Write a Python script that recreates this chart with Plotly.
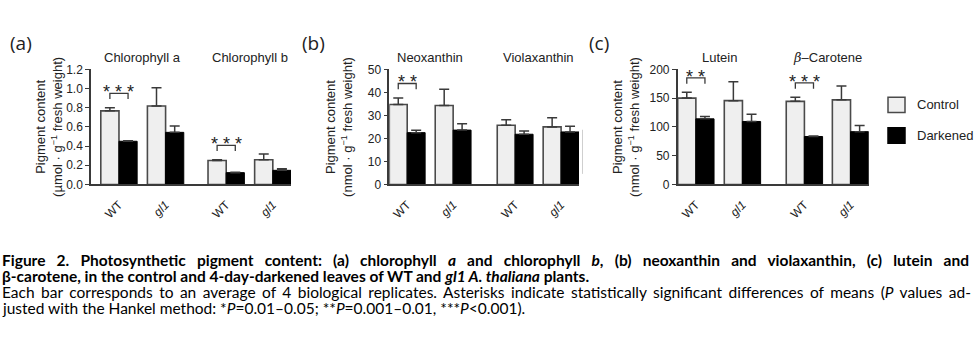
import plotly.graph_objects as go

# ---------------- data ----------------
genotypes = ["WT", "<i>gl1</i>", "WT", "<i>gl1</i>"]
series_names = ["Control", "Darkened"]

a_pigments = ["Chlorophyll a", "Chlorophyll b"]
a_control = [0.767, 0.817, 0.250, 0.257]
a_control_err = [0.033, 0.19, 0.008, 0.06]
a_dark = [0.450, 0.543, 0.123, 0.147]
a_dark_err = [0.006, 0.067, 0.003, 0.016]
a_sig = [(0, "* * *"), (2, "* * *")]

b_pigments = ["Neoxanthin", "Violaxanthin"]
b_control = [34.7, 34.3, 25.7, 25.0]
b_control_err = [2.9, 7.1, 2.4, 4.0]
b_dark = [22.5, 23.6, 21.8, 22.8]
b_dark_err = [1.0, 2.8, 1.4, 2.5]
b_sig = [(0, "* *")]

c_pigments = ["Lutein", "<span style='font-family:DejaVu Serif'><i>β</i></span>–Carotene"]
c_control = [150.0, 145.6, 144.4, 147.0]
c_control_err = [10.0, 33.0, 7.0, 24.0]
c_dark = [114.0, 109.4, 83.3, 91.7]
c_dark_err = [4.0, 12.6, 1.0, 10.5]
c_sig = [(0, "* *"), (2, "* * *")]

# ---------------- layout helpers ----------------
W, H = 974, 342
def px(x):
    return x / W
def py(y):
    return 1 - y / H

AX = "Liberation Sans, Arial, sans-serif"
LINE = "#3a3a3a"
CTRL_FILL = "#efefef"

panels = [
    dict(letter="(a)", pig=a_pigments, ctrl=a_control, ce=a_control_err, dark=a_dark, de=a_dark_err,
         sig=a_sig, xdom=(91, 291), pos=[0, 1, 2.3, 3.3], xr=(-0.60, 3.69), yr=(0, 1.2), dt=0.2,
         fmt=".1f", unit="µmol", letter_x=8, title_x=49),
    dict(letter="(b)", pig=b_pigments, ctrl=b_control, ce=b_control_err, dark=b_dark, de=b_dark_err,
         sig=b_sig, xdom=(389.3, 579), pos=[0, 1, 2.35, 3.35], xr=(-0.39, 3.74), yr=(0, 50), dt=10,
         fmt="d", unit="nmol", letter_x=300, title_x=339),
    dict(letter="(c)", pig=c_pigments, ctrl=c_control, ce=c_control_err, dark=c_dark, de=c_dark_err,
         sig=c_sig, xdom=(677.7, 868.7), pos=[0, 1, 2.33, 3.32], xr=(-0.39, 3.71), yr=(0, 200), dt=50,
         fmt="d", unit="nmol", letter_x=587, title_x=626),
]

Y_TOP, Y_BOT = 65, 185
BW = 0.39

fig = go.Figure()
shapes = []
annotations = []

for i, p in enumerate(panels):
    k = "" if i == 0 else str(i + 1)
    xa, ya = "x" + k, "y" + k
    fig.add_trace(go.Bar(
        x=p["pos"], y=p["ctrl"], name=series_names[0], xaxis=xa, yaxis=ya,
        width=BW, offset=-BW, showlegend=False,
        marker=dict(color=CTRL_FILL, line=dict(color="#4a4a4a", width=1.6)),
        error_y=dict(type="data", array=p["ce"], arrayminus=[0] * 4, symmetric=False,
                     color=LINE, thickness=1.5, width=5),
    ))
    fig.add_trace(go.Bar(
        x=p["pos"], y=p["dark"], name=series_names[1], xaxis=xa, yaxis=ya,
        width=BW, offset=0, showlegend=False,
        marker=dict(color="#000000", line=dict(color="#000000", width=1)),
        error_y=dict(type="data", array=p["de"], arrayminus=[0] * 4, symmetric=False,
                     color=LINE, thickness=1.5, width=5),
    ))
    xd = (px(p["xdom"][0]), px(p["xdom"][1]))
    yd = (py(Y_BOT), py(Y_TOP))
    axl = "xaxis" + k
    ayl = "yaxis" + k
    fig.layout[axl] = dict(
        domain=xd, anchor=ya, range=list(p["xr"]), showgrid=False, zeroline=False,
        showline=True, linecolor=LINE, linewidth=1.5, ticks="",
        tickmode="array", tickvals=p["pos"], ticktext=genotypes, tickangle=-45,
        ticklabelstandoff=7,
        tickfont=dict(family=AX, size=12, color="#222"),
    )
    y0, y1 = p["yr"]
    ntk = int(round((y1 - y0) / p["dt"]))
    fig.layout[ayl] = dict(
        domain=yd, anchor=xa, range=[y0, y1], showgrid=False, zeroline=False,
        showline=True, linecolor=LINE, linewidth=1.5, ticks="outside", ticklen=4,
        tickwidth=1.2, tickcolor=LINE, tickmode="array",
        tickvals=[y0 + j * p["dt"] for j in range(ntk + 1)],
        tickformat=p["fmt"], tickfont=dict(family=AX, size=12, color="#222"),
    )
    # significance brackets
    upp = (y1 - y0) / (Y_BOT - Y_TOP)  # data units per pixel
    for gi, stars in p["sig"]:
        top = max(p["ctrl"][gi] + p["ce"][gi], p["dark"][gi] + p["de"][gi]) + 15 * upp
        xl = p["pos"][gi] - BW / 2
        xr_ = p["pos"][gi] + BW / 2
        shapes.append(dict(type="path", xref=xa, yref=ya,
                           path=f"M {xl} {top - 6 * upp} L {xl} {top} L {xr_} {top} L {xr_} {top - 6 * upp}",
                           line=dict(color=LINE, width=1.3)))
        annotations.append(dict(x=p["pos"][gi], y=top, xref=xa, yref=ya, text=stars, showarrow=False,
                                yanchor="bottom", yshift=-11,
                                font=dict(family=AX, size=18, color="#222")))
    # pigment titles above groups
    for j, name in enumerate(p["pig"]):
        cx = (p["pos"][2 * j] + p["pos"][2 * j + 1]) / 2
        annotations.append(dict(x=cx, y=py(53), xref=xa, yref="paper", text=name, showarrow=False,
                                yanchor="middle", font=dict(family=AX, size=13, color="#222")))
    # panel letters
    annotations.append(dict(x=px(p["letter_x"]), y=py(38), xref="paper", yref="paper", text=p["letter"],
                            showarrow=False, xanchor="left", yanchor="middle",
                            font=dict(family="Open Sans, sans-serif", size=19, color="#222")))
    # y-axis titles
    annotations.append(dict(x=px(p["title_x"]), y=py(125), xref="paper", yref="paper",
                            text=f"Pigment content<br>({p['unit']} · g<sup>−1</sup> fresh weight)",
                            textangle=-90, showarrow=False, xanchor="center", yanchor="middle",
                            font=dict(family=AX, size=13, color="#222")))

# legend (manual)
for name, fill, lc, yc in [("Control", CTRL_FILL, "#4a4a4a", 102), ("Darkened", "#000000", "#000000", 134)]:
    shapes.append(dict(type="rect", xref="paper", yref="paper", x0=px(888), x1=px(905),
                       y0=py(yc + 8), y1=py(yc - 8), fillcolor=fill, line=dict(color=lc, width=1.5)))
    annotations.append(dict(x=px(915), y=py(yc), xref="paper", yref="paper", text=name, showarrow=False,
                            xanchor="left", yanchor="middle", font=dict(family=AX, size=13, color="#222")))

# faint stray line left of panel (c)
shapes.append(dict(type="line", xref="paper", yref="paper", x0=px(582.5), x1=px(582.5), y0=py(128), y1=py(174),
                   line=dict(color="#cfcfcf", width=1)))

# caption
CAP = "Lato, Open Sans, sans-serif"
cap_lines = [
    ("Figure 2. Photosynthetic pigment content: (a) chlorophyll <i>a</i> and chlorophyll <i>b</i>, "
     "(b) neoxanthin and violaxanthin, (c) lutein and", 700, 15.5, 264, 7.4),
    ("β-carotene, in the control and 4-day-darkened leaves of WT and <i>gl1 A. thaliana</i> plants.",
     700, 15.5, 280.5, 0),
    ("Each bar corresponds to an average of 4 biological replicates. Asterisks indicate statistically "
     "significant differences of means (<i>P</i> values ad-", 400, 15.5, 297, 2.5),
    ("justed with the Hankel method: *<i>P</i>=0.01–0.05; **<i>P</i>=0.001–0.01, ***<i>P</i>&lt;0.001).",
     400, 15.5, 313.5, 0),
]
for txt, wt, fs, yc, ws in cap_lines:
    t = f"<span style='word-spacing:{ws}px'>{txt}</span>" if ws else txt
    annotations.append(dict(x=0, y=py(yc), xref="paper", yref="paper", text=t, showarrow=False,
                            xanchor="left", yanchor="middle",
                            font=dict(family=CAP, size=fs, color="#000", weight=wt)))

fig.update_layout(
    width=W, height=H, margin=dict(l=0, r=0, t=0, b=0),
    paper_bgcolor="white", plot_bgcolor="white",
    barmode="overlay", shapes=shapes, annotations=annotations,
)

fig.write_html("out.html")
